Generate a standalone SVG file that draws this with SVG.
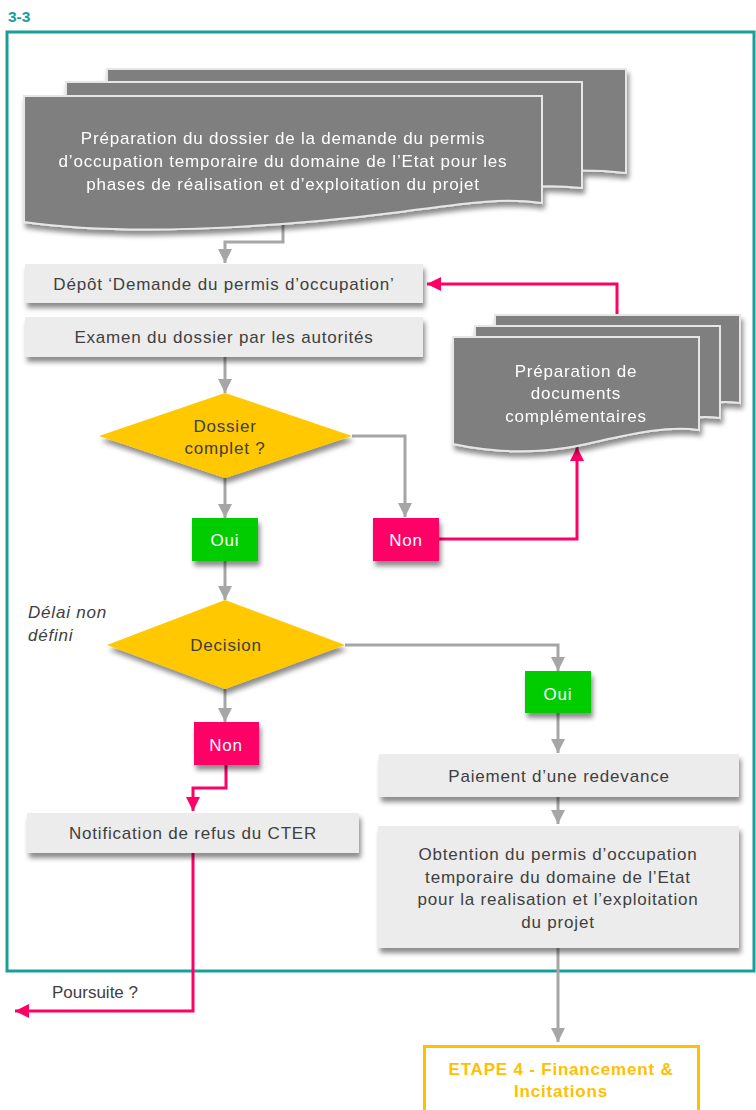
<svg xmlns="http://www.w3.org/2000/svg" width="756" height="1110" viewBox="0 0 756 1110">
<defs>
<style>
.t{font-family:"Liberation Sans",Arial,sans-serif;font-size:17px;text-anchor:middle;fill:#404040;letter-spacing:0.8px}
.w{fill:#ffffff}
.box{fill:#ececec}
.sheet{fill:#7f7f7f;stroke:#e6e6e6;stroke-width:2}
.dia{fill:#ffc800}
.g{fill:none;stroke:#a6a6a6;stroke-width:3}
.p{fill:none;stroke:#ff0066;stroke-width:3}
</style>
<filter id="sh" x="-10%" y="-20%" width="125%" height="150%">
<feDropShadow dx="2" dy="5" stdDeviation="2.5" flood-color="#000" flood-opacity="0.45"/>
</filter>
<marker id="ag" markerUnits="userSpaceOnUse" markerWidth="16" markerHeight="16" refX="14" refY="7" orient="auto">
<path d="M0,0 L14,7 L0,14 z" fill="#a6a6a6"/>
</marker>
<marker id="ap" markerUnits="userSpaceOnUse" markerWidth="16" markerHeight="16" refX="14" refY="7" orient="auto">
<path d="M0,0 L14,7 L0,14 z" fill="#ff0066"/>
</marker>
</defs>
<rect width="756" height="1110" fill="#ffffff"/>
<text x="8" y="22" style="font-family:'Liberation Sans',Arial,sans-serif;font-size:15.5px;font-weight:bold;fill:#12a09b">3-3</text>
<rect x="7" y="32" width="747" height="939" fill="none" stroke="#1a9e99" stroke-width="3"/>

<g id="connectors">
<path class="g" d="M283,222 V242 H225 V263" marker-end="url(#ag)"/>
<path class="g" d="M225,357 V393" marker-end="url(#ag)"/>
<path class="g" d="M352,436 H405 V517" marker-end="url(#ag)"/>
<path class="g" d="M225,477 V518" marker-end="url(#ag)"/>
<path class="g" d="M225,561 V600" marker-end="url(#ag)"/>
<path class="g" d="M345,645 H558 V671" marker-end="url(#ag)"/>
<path class="g" d="M225,689 V722" marker-end="url(#ag)"/>
<path class="g" d="M558,713 V753" marker-end="url(#ag)"/>
<path class="g" d="M558,797 V824" marker-end="url(#ag)"/>
<path class="g" d="M558,948 V1042" marker-end="url(#ag)"/>
<path class="p" d="M439,539 H577 V447" marker-end="url(#ap)"/>
<path class="p" d="M617,314 V284 H427" marker-end="url(#ap)"/>
<path class="p" d="M226,765 V788 H193 V811" marker-end="url(#ap)"/>
<path class="p" d="M193,853 V1011 H15" marker-end="url(#ap)"/>
<text x="52" y="998" class="t" style="text-anchor:start;letter-spacing:0">Poursuite ?</text>
</g>

<g id="doc-preparation" filter="url(#sh)">
<path class="sheet" d="M107,69 H626 V173 C560,166 520,176 480,180 L107,180 Z"/>
<path class="sheet" d="M66,82 H582 V188 C530,182 490,192 440,196 L66,196 Z"/>
<path class="sheet" d="M24,96 H542 V203 C500,197 460,204 400,212 C330,221 150,240 24,222 Z"/>
<text class="t w" x="283" y="144">Préparation du dossier de la demande du permis</text>
<text class="t w" x="283" y="167">d’occupation temporaire du domaine de l’Etat pour les</text>
<text class="t w" x="283" y="190">phases de réalisation et d’exploitation du projet</text>
</g>

<g id="depot">
<rect class="box" x="25" y="264" width="398" height="39" filter="url(#sh)"/>
<text class="t" x="224" y="290">Dépôt ‘Demande du permis d’occupation’</text>
</g>

<g id="examen">
<rect class="box" x="25" y="317" width="398" height="40" filter="url(#sh)"/>
<text class="t" x="224" y="343">Examen du dossier par les autorités</text>
</g>

<g id="doc-complementaires" filter="url(#sh)">
<path class="sheet" d="M495,315 H740 V403 C720,400 700,404 680,408 L495,408 Z"/>
<path class="sheet" d="M475,326 H720 V418 C700,415 680,419 660,423 L475,423 Z"/>
<path class="sheet" d="M453,337 H699 V430 C660,425 620,437 577,446 C530,455 490,452 453,444 Z"/>
<text class="t w" x="576" y="377">Préparation de</text>
<text class="t w" x="576" y="399">documents</text>
<text class="t w" x="576" y="422">complémentaires</text>
</g>

<g id="dossier-complet">
<polygon class="dia" points="225,393 352,436 225,478 99,436" filter="url(#sh)"/>
<text class="t" x="225" y="432">Dossier</text>
<text class="t" x="225" y="454">complet ?</text>
</g>

<g id="oui1">
<rect x="192" y="518" width="66" height="43" fill="#00cc00" filter="url(#sh)"/>
<text class="t w" x="225" y="546">Oui</text>
</g>

<g id="non1">
<rect x="373" y="518" width="66" height="43" fill="#ff0066" filter="url(#sh)"/>
<text class="t w" x="406" y="546">Non</text>
</g>

<g id="delai">
<text class="t" x="28" y="618" style="text-anchor:start;font-style:italic">Délai non</text>
<text class="t" x="28" y="641" style="text-anchor:start;font-style:italic">défini</text>
</g>

<g id="decision">
<polygon class="dia" points="225,600 345,645 225,689 107,645" filter="url(#sh)"/>
<text class="t" x="226" y="651">Decision</text>
</g>

<g id="oui2">
<rect x="525" y="671" width="66" height="42" fill="#00cc00" filter="url(#sh)"/>
<text class="t w" x="558" y="700">Oui</text>
</g>

<g id="non2">
<rect x="194" y="722" width="65" height="43" fill="#ff0066" filter="url(#sh)"/>
<text class="t w" x="226" y="751">Non</text>
</g>

<g id="notification">
<rect class="box" x="27" y="813" width="332" height="40" filter="url(#sh)"/>
<text class="t" x="193" y="839">Notification de refus du CTER</text>
</g>

<g id="paiement">
<rect class="box" x="379" y="754" width="360" height="43" filter="url(#sh)"/>
<text class="t" x="559" y="782">Paiement d’une redevance</text>
</g>

<g id="obtention">
<rect class="box" x="378" y="826" width="361" height="122" filter="url(#sh)"/>
<text class="t" x="558" y="860">Obtention du permis d’occupation</text>
<text class="t" x="558" y="883">temporaire du domaine de l’Etat</text>
<text class="t" x="558" y="905">pour la realisation et l’exploitation</text>
<text class="t" x="558" y="928">du projet</text>
</g>

<g id="etape4">
<rect x="424.5" y="1046.5" width="274" height="70" fill="#ffffff" stroke="#ffc000" stroke-width="3"/>
<text class="t" x="561" y="1075" style="fill:#ffc000;font-weight:bold">ETAPE 4 - Financement &amp;</text>
<text class="t" x="561" y="1097" style="fill:#ffc000;font-weight:bold">Incitations</text>
</g>
</svg>
